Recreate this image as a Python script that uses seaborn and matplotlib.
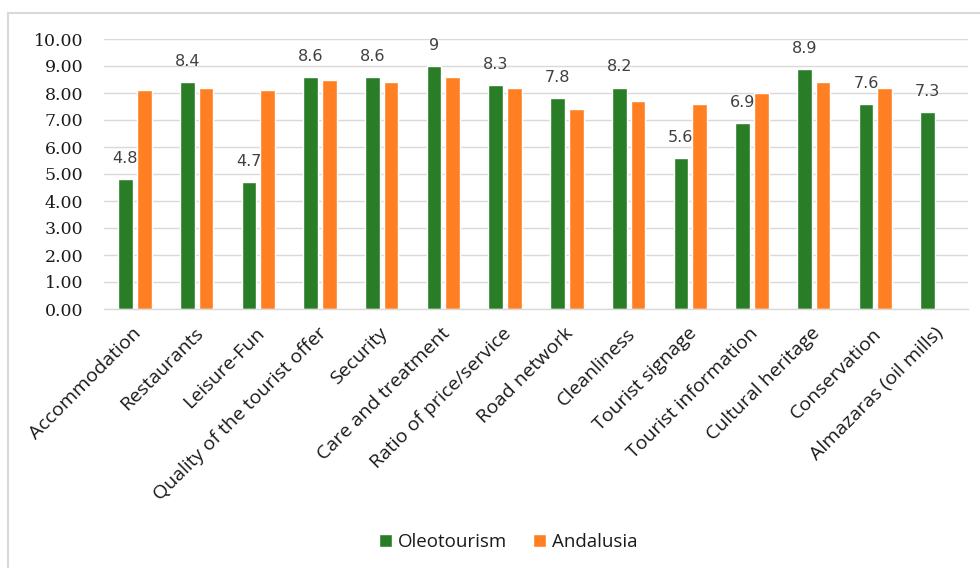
import matplotlib
matplotlib.use("Agg")
import matplotlib.pyplot as plt
from matplotlib.patches import Rectangle
from matplotlib.ticker import FormatStrFormatter, MultipleLocator
import matplotlib.transforms as mtransforms
import numpy as np
import pandas as pd
import seaborn as sns

# Survey scores per item
categories = [
    "Accommodation", "Restaurants", "Leisure-Fun", "Quality of the tourist offer",
    "Security", "Care and treatment", "Ratio of price/service", "Road network",
    "Cleanliness", "Tourist signage", "Tourist information", "Cultural heritage",
    "Conservation", "Almazaras (oil mills)",
]
oleotourism = [4.8, 8.4, 4.7, 8.6, 8.6, 9, 8.3, 7.8, 8.2, 5.6, 6.9, 8.9, 7.6, 7.3]
andalusia = [8.1, 8.2, 8.1, 8.5, 8.4, 8.6, 8.2, 7.4, 7.7, 7.6, 8.0, 8.4, 8.2, np.nan]
series_names = ["Oleotourism", "Andalusia"]
colors = ["#2A7D27", "#FF7F22"]

df = pd.DataFrame({
    "item": categories * 2,
    "score": oleotourism + andalusia,
    "series": [series_names[0]] * len(categories) + [series_names[1]] * len(categories),
})

sns.set_theme(style="white")
plt.rcParams["font.family"] = ["Open Sans", "DejaVu Sans"]

fig = plt.figure(figsize=(9.8, 5.68), dpi=100)
ax = fig.add_axes([104 / 980, 1 - 309 / 568, 864 / 980, 270 / 568])

sns.barplot(
    data=df, x="item", y="score", hue="series", order=categories,
    hue_order=series_names, palette=colors, width=0.61, gap=0.22,
    saturation=1, ax=ax, legend=True, errorbar=None,
)

ax.set_ylim(0, 10)
ax.set_xlim(-0.5, len(categories) - 0.5)
ax.yaxis.set_major_locator(MultipleLocator(1))
ax.yaxis.set_major_formatter(FormatStrFormatter("%.2f"))
ax.grid(axis="y", color="#d9d9d9", linewidth=1.0)
ax.set_axisbelow(True)
for side in ["top", "right", "left"]:
    ax.spines[side].set_visible(False)
ax.spines["bottom"].set_color("#d9d9d9")
ax.spines["bottom"].set_linewidth(1.0)
ax.tick_params(axis="both", length=0)
ax.set_xlabel("")
ax.set_ylabel("")

ax.tick_params(axis="y", pad=15, labelsize=12.5, labelcolor="#1a1a1a",
               labelfontfamily="DejaVu Serif")

ax.set_xticks(range(len(categories)))
ax.set_xticklabels(categories, rotation=45, ha="right", rotation_mode="anchor",
                   fontsize=14, color="#1a1a1a", family="Open Sans")
ax.tick_params(axis="x", pad=11)
shift = mtransforms.ScaledTranslation(-2 / 72, 0, fig.dpi_scale_trans)
for lbl in ax.get_xticklabels():
    lbl.set_transform(lbl.get_transform() + shift)

# Value labels on the Oleotourism bars
ax.bar_label(ax.containers[0], labels=[f"{v:g}" for v in oleotourism],
             padding=9.5, fontsize=11.5, color="#404040", family="DejaVu Sans")

leg = ax.legend(loc="center", bbox_to_anchor=(508 / 980, 1 - 542 / 568),
                bbox_transform=fig.transFigure, ncol=2, frameon=False,
                fontsize=13.5, handlelength=0.7, handleheight=0.7,
                handletextpad=0.3, columnspacing=1.4)
for t in leg.get_texts():
    t.set_color("#1a1a1a")
    t.set_family("Open Sans")

# Chart frame
fig.patches.append(Rectangle((8 / 980, -0.05), 1.1, 1 - 13 / 568 + 0.05,
                             transform=fig.transFigure, fill=False,
                             edgecolor="#d9d9d9", linewidth=1.5))

fig.savefig("out.png", dpi=100)
